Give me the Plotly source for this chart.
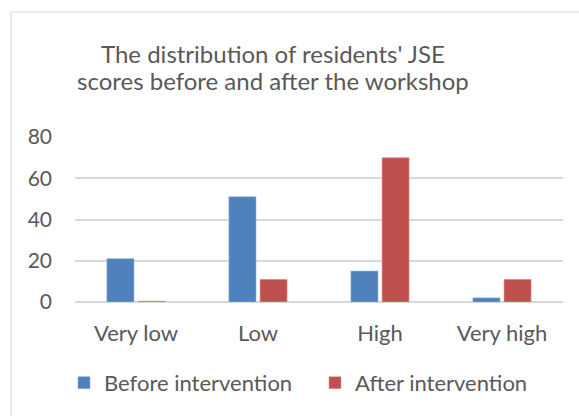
import plotly.graph_objects as go

categories = ["Very low", "Low", "High", "Very high"]
before = [21, 51, 15, 2]
after = [0.4, 11, 70, 11]
y_ticks = [0, 20, 40, 60, 80]
title_lines = ["The distribution of residents' JSE", "scores before and after the workshop"]

FONT = "Lato, Carlito, 'Open Sans', sans-serif"
GRAY = "#595959"

fig = go.Figure()
fig.add_trace(go.Bar(x=categories, y=before, name="Before intervention", legend="legend",
                     marker=dict(color="#4f81bd", line=dict(color="#8fb0d8", width=0.6))))
fig.add_trace(go.Bar(x=categories, y=after, name="After intervention", legend="legend2",
                     marker=dict(color="#c0504d", line=dict(color="#e0a09e", width=0.6))))

leg_common = dict(orientation="h", xanchor="left", y=-0.49, yanchor="middle",
                  font=dict(family=FONT, size=22, color=GRAY), itemwidth=30,
                  bgcolor="rgba(0,0,0,0)")

PLOT_H = 165.0
def py(px):  # pixel row -> paper y
    return (302 - px) / PLOT_H

annotations = [
    dict(text=title_lines[0], xref="paper", yref="paper", x=(273 - 75) / 488, y=py(53),
         xanchor="center", yanchor="middle", showarrow=False,
         font=dict(family=FONT, size=24, color=GRAY)),
    dict(text=title_lines[1], xref="paper", yref="paper", x=(273 - 75) / 488, y=py(80),
         xanchor="center", yanchor="middle", showarrow=False,
         font=dict(family=FONT, size=24, color=GRAY)),
]

fig.update_layout(
    width=579, height=416,
    paper_bgcolor="white", plot_bgcolor="white",
    margin=dict(l=75, r=16, t=137, b=114),
    barmode="group", bargap=0.49, bargroupgap=0.13,
    font=dict(family=FONT, color=GRAY, size=21),
    annotations=annotations,
    showlegend=True,
    legend=dict(x=(64-75)/488, **leg_common),
    legend2=dict(x=(315-75)/488, **leg_common),
    xaxis=dict(showline=False, tickfont=dict(size=22, color=GRAY), ticks="",
               showgrid=False, ticklabelstandoff=16),
    yaxis=dict(range=[0, 80], tickvals=y_ticks, showgrid=True, gridcolor="#d9d9d9",
               gridwidth=1.5, zeroline=True, zerolinecolor="#d9d9d9", zerolinewidth=1.5,
               tickfont=dict(size=21, color=GRAY), ticks="", ticklabelstandoff=22),
    shapes=[
        dict(type="line", xref="paper", yref="paper", x0=-64/488, x1=-64/488,
             y0=-2, y1=py(12), line=dict(color="#d9d9d9", width=1.2)),
        dict(type="line", xref="paper", yref="paper", x0=-64/488, x1=2,
             y0=py(12), y1=py(12), line=dict(color="#d9d9d9", width=1.2)),
    ],
)

fig.write_html("out.html", config={"displayModeBar": False},
               post_script="document.body.style.margin='0px';document.body.style.padding='0px';")
